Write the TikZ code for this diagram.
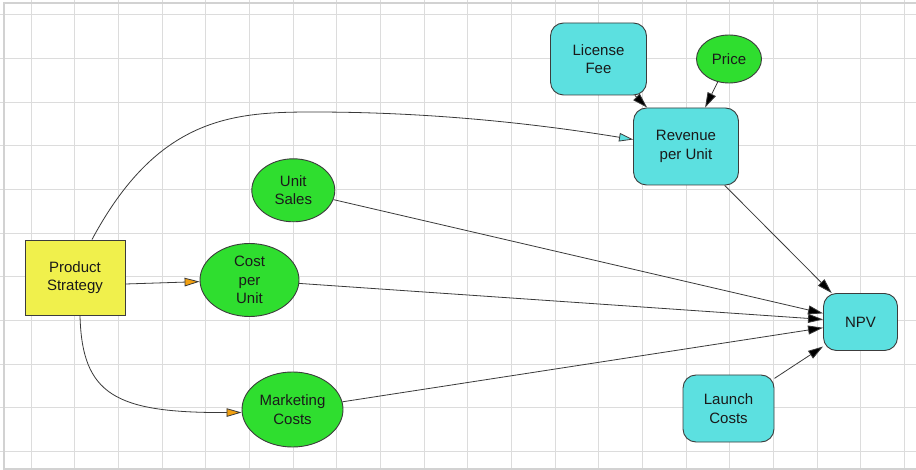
\documentclass[tikz,border=0pt]{standalone}
\usepackage{fontspec}
\setmainfont{Liberation Sans}
\usetikzlibrary{arrows.meta,shapes.geometric}

\definecolor{gridgray}{HTML}{DCDCDC}
\definecolor{framegray}{HTML}{D2D2D2}
\definecolor{edgegray}{HTML}{3A3A3A}
\definecolor{outline}{HTML}{3C3C3C}
\definecolor{textdark}{HTML}{1A1A1A}
\definecolor{decisionyellow}{HTML}{F0F04C}
\definecolor{chancegreen}{HTML}{2FDE2F}
\definecolor{calccyan}{HTML}{5CE0E0}
\definecolor{tiporange}{HTML}{F2A010}

\tikzset{
  gridline/.style={draw=gridgray, line width=1pt},
  frameline/.style={draw=framegray, line width=2pt},
  nodebase/.style={draw=outline, line width=0.9pt, inner sep=0pt, align=center,
    text=textdark, font=\fontsize{15pt}{18.5pt}\selectfont},
  decision/.style={nodebase, rectangle, fill=decisionyellow},
  chance/.style={nodebase, ellipse, fill=chancegreen},
  calc/.style={nodebase, rectangle, rounded corners=13pt, fill=calccyan},
  link/.style={draw=edgegray, line width=0.8pt,
    -{Triangle[length=15pt,width=9pt,fill=black]}},
  feed/.style={draw=edgegray, line width=0.8pt,
    -{Triangle[length=15pt,width=8.5pt,fill=tiporange]}},
  feedcyan/.style={draw=edgegray, line width=0.8pt,
    -{Triangle[length=14pt,width=8.5pt,fill=calccyan]}},
}

\begin{document}
\begin{tikzpicture}[x=1pt,y=-1pt]
  \useasboundingbox (0,0) rectangle (916,470);
  \fill[white] (0,0) rectangle (916,470);

  % background grid
  \foreach \k in {0,...,20}
    \draw[gridline] ({31.3+43.65*\k},0) -- ({31.3+43.65*\k},470);
  \foreach \k in {0,...,10}
    \draw[gridline] (0,{15+43.65*\k}) -- (916,{15+43.65*\k});

  % canvas frame
  \draw[frameline] (916,3) -- (4,3) -- (4,469) -- (916,469);

  % nodes
  \node[decision, minimum width=100pt, minimum height=75pt] (ps) at (75,277.5) {Product\\Strategy};
  \node[chance, minimum width=99pt, minimum height=73pt] (cpu) at (249.5,280) {Cost\\per\\Unit};
  \node[chance, minimum width=83pt, minimum height=63pt] (us) at (293.3,190.3) {Unit\\Sales};
  \node[chance, minimum width=101pt, minimum height=75pt] (mc) at (292.5,409.5) {Marketing\\Costs};
  \node[calc, minimum width=96pt, minimum height=72pt] (lf) at (598.5,59) {License\\Fee};
  \node[chance, minimum width=65pt, minimum height=48pt] (price) at (729,59) {Price};
  \node[calc, minimum width=105pt, minimum height=77pt] (rev) at (686,146.5) {Revenue\\per Unit};
  \node[calc, minimum width=74pt, minimum height=57pt] (npv) at (860.5,322) {NPV};
  \node[calc, minimum width=91pt, minimum height=67pt] (lc) at (728.5,408.5) {Launch\\Costs};

  % strategy influences
  \draw[feedcyan] ([xshift=17pt]ps.north)
    .. controls (157.8,116.8) and (233,112) .. (313,112)
    .. controls (413,112) and (515.7,120.4) .. ([yshift=7pt]rev.west);
  \draw[feed] ([yshift=-6.5pt]ps.east) -- (cpu);
  \draw[feed] ([xshift=5pt]ps.south)
    .. controls (82,395) and (115,413) .. ([yshift=-3pt]mc.west);

  % value flows
  \draw[link] (lf) -- (rev);
  \draw[link] (price) -- (rev);
  \draw[link] (rev) -- (npv);
  \draw[link] (us) -- (npv);
  \draw[link] (cpu) -- (npv);
  \draw[link] (mc) -- (npv);
  \draw[link] (lc) -- (npv);
\end{tikzpicture}
\end{document}
